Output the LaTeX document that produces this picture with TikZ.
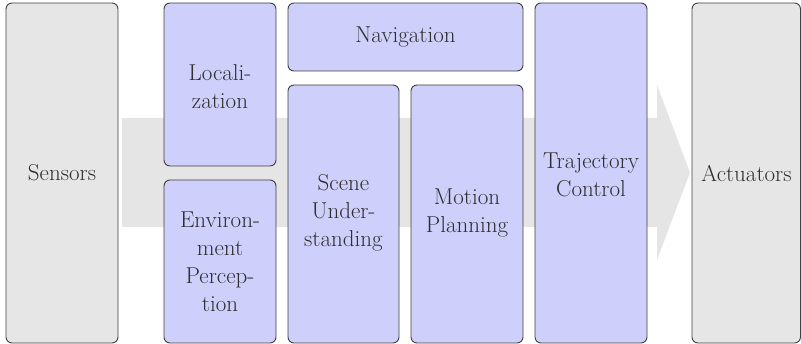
\documentclass[tikz,border=0pt]{standalone}
\begin{document}
\begin{tikzpicture}[x=1pt,y=-1pt,
  box/.style={draw=black!75, line width=0.9pt, rounded corners=6pt, fill=#1, inner sep=0pt},
  lbl/.style={text=black!82, font=\fontsize{23}{28}\selectfont, align=center},
]
\definecolor{bluebox}{HTML}{CFCFFC}
\definecolor{graybox}{HTML}{E6E6E6}
\definecolor{arrowgray}{HTML}{E5E5E5}
\useasboundingbox (0,0) rectangle (801,344);
% big arrow in background
\fill[arrowgray] (122,118) -- (657,118) -- (657,85) -- (690,172.5) -- (657,260) -- (657,227) -- (122,227) -- cycle;
% boxes
\draw[box=graybox] (6,3) rectangle (118,343);
\node[lbl] (sens) at (62,173) {Sensors};
\draw[box=bluebox] (164,3) rectangle (276,166);
\node[lbl] (loc) at (220,87) {Locali-\\zation};
\draw[box=bluebox] (164,180) rectangle (276,343);
\node[lbl] (env) at (220,262) {Environ-\\ment\\Percep-\\tion};
\draw[box=bluebox] (288,3) rectangle (523,71);
\node[lbl] (nav) at (405.5,37) {Navigation};
\draw[box=bluebox] (288,85) rectangle (399,343);
\node[lbl] (scene) at (343.5,213) {Scene\\Under-\\standing};
\draw[box=bluebox] (411,85) rectangle (523,343);
\node[lbl] (mot) at (467,213) {Motion\\Planning};
\draw[box=bluebox] (535,3) rectangle (647,343);
\node[lbl] (traj) at (591,174.5) {Trajectory\\Control};
\draw[box=graybox] (692,3) rectangle (800.5,343);
\node[lbl] (act) at (746.5,173) {Actuators};
\end{tikzpicture}
\end{document}
